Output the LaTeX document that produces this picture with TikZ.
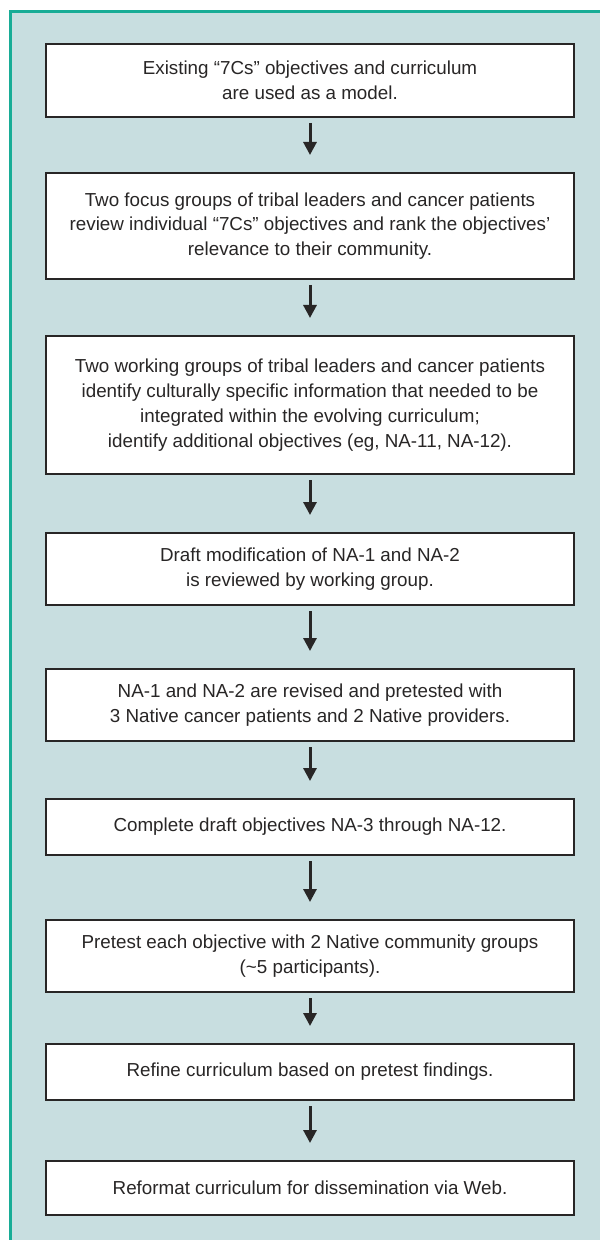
\documentclass[tikz,border=0pt]{standalone}
\usepackage{fontspec}
\setmainfont{Liberation Sans}
\usetikzlibrary{arrows.meta}
\definecolor{panel}{RGB}{200,222,224}
\definecolor{rim}{RGB}{24,172,150}
\definecolor{ink}{RGB}{40,38,38}
\begin{document}
\begin{tikzpicture}[x=0.5pt,y=-0.5pt]
\tikzset{ >={Triangle[width=6.5pt,length=6.5pt]}, inner sep=0pt, outer sep=0pt,
  stepbox/.style={draw=ink, line width=1pt, fill=white, text=ink,
    minimum width=264pt, align=center, font=\fontsize{9.4}{12.4}\selectfont},
  flow/.style={->, ink, line width=1.5pt, shorten <=3pt, shorten >=9pt} }

\useasboundingbox (0,0) rectangle (600,1240);
\fill [panel] (10,11.5) rectangle (600,1240);
\draw [rim, line width=1.5pt] (10,1240) -- (10,11.5) -- (600,11.5);

%\draw [lightgray, dashed](0,0) grid[step=50] (600,1240);

\node [stepbox, minimum height=36.5pt] (A) at (310,80.5)
  {Existing “7Cs” objectives and curriculum\\are used as a model.};
\node [stepbox, minimum height=53pt] (B) at (310,226)
  {Two focus groups of tribal leaders and cancer patients\\review individual “7Cs” objectives and rank the objectives’\\relevance to their community.};
\node [stepbox, minimum height=69pt] (C) at (310,405)
  {Two working groups of tribal leaders and cancer patients\\identify culturally specific information that needed to be\\integrated within the evolving curriculum;\\identify additional objectives (eg, NA-11, NA-12).};
\node [stepbox, minimum height=36pt] (D) at (310,569)
  {Draft modification of NA-1 and NA-2\\is reviewed by working group.};
\node [stepbox, minimum height=36pt] (E) at (310,705)
  {NA-1 and NA-2 are revised and pretested with\\3 Native cancer patients and 2 Native providers.};
\node [stepbox, minimum height=28pt] (F) at (310,827)
  {Complete draft objectives NA-3 through NA-12.};
\node [stepbox, minimum height=36pt] (G) at (310,956)
  {Pretest each objective with 2 Native community groups\\(\textasciitilde5 participants).};
\node [stepbox, minimum height=28pt] (H) at (310,1072)
  {Refine curriculum based on pretest findings.};
\node [stepbox, minimum height=27pt] (K) at (310,1188)
  {Reformat curriculum for dissemination via Web.};

\draw [flow] (A) -- (B);
\draw [flow] (B) -- (C);
\draw [flow] (C) -- (D);
\draw [flow] (D) -- (E);
\draw [flow] (E) -- (F);
\draw [flow] (F) -- (G);
\draw [flow] (G) -- (H);
\draw [flow] (H) -- (K);

\end{tikzpicture}
\end{document}
